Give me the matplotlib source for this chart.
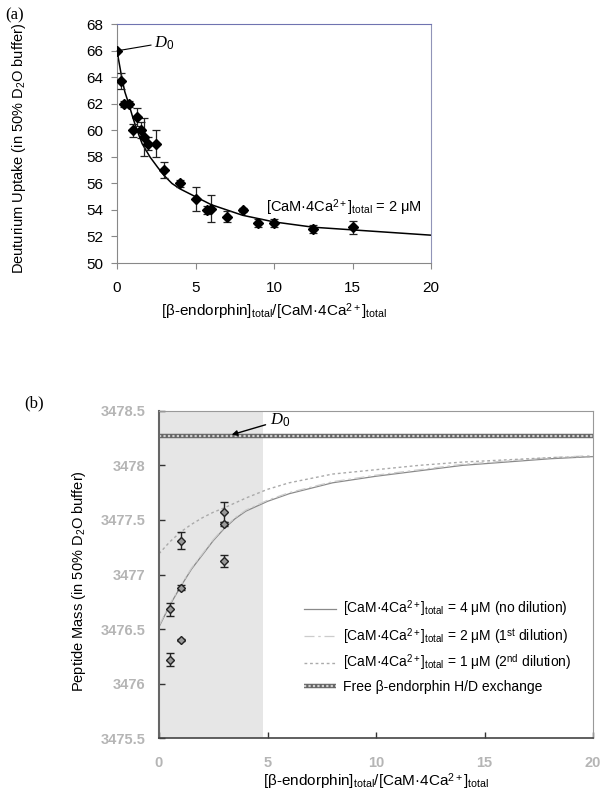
import matplotlib
matplotlib.use("Agg")
import matplotlib.pyplot as plt

plt.rcParams['font.family'] = ['Liberation Sans', 'DejaVu Sans']
plt.rcParams['mathtext.fontset'] = 'custom'
plt.rcParams['mathtext.rm'] = 'Liberation Sans'
plt.rcParams['mathtext.it'] = 'Liberation Serif:italic'
plt.rcParams['mathtext.bf'] = 'Liberation Sans:bold'

# ---- panel (a) data: deuterium uptake vs ratio ----
a_x = [0, 0.25, 0.45, 0.75, 1.0, 1.25, 1.5, 1.75, 2.0, 2.5, 3, 4, 5, 5.75, 6, 7, 8, 9, 10, 12.5, 15]
a_y = [66, 63.7, 62, 62, 60, 61, 60, 59.5, 59, 59, 57, 56, 54.8, 54, 54.1, 53.5, 54, 53, 53, 52.6, 52.7]
a_err = [0, 0.6, 0.25, 0.25, 0.5, 0.7, 0.6, 1.4, 0.5, 1.0, 0.6, 0.25, 0.9, 0.3, 1.0, 0.4, 0.15, 0.3, 0.3, 0.3, 0.5]

# fitted curve
a_fit_x = [0, 0.15, 0.3, 0.5, 0.75, 1.0, 1.25, 1.6, 2.1, 2.6, 3.0, 3.5, 4.0, 5, 6, 7, 8, 10, 12.5, 15, 17.5, 20]
a_fit_y = [66, 65, 64, 62.9, 62, 61, 60.1, 59, 58, 57.2, 56.6, 56.0, 55.6, 55.0, 54.4, 54.0, 53.6, 53.1, 52.7, 52.5, 52.3, 52.1]

# ---- panel (b) data: peptide mass vs ratio ----
b_x = [0.5, 0.5, 1.0, 1.0, 1.0, 3.0, 3.0, 3.0]
b_y = [3476.68, 3476.22, 3477.31, 3476.88, 3476.40, 3477.57, 3477.46, 3477.12]
b_err = [0.057, 0.06, 0.075, 0.02, 0.01, 0.09, 0.02, 0.055]

fit4_x = [0, 0.5, 1, 1.5, 2, 2.5, 3, 3.5, 4, 5, 6, 7, 8, 10, 12, 14, 16, 18, 20]
fit4_y = [3476.52, 3476.72, 3476.89, 3477.05, 3477.18, 3477.31, 3477.42, 3477.51, 3477.58,
          3477.67, 3477.74, 3477.79, 3477.84, 3477.90, 3477.95, 3478.00, 3478.03, 3478.06, 3478.08]
fit2_y = [3476.53, 3476.73, 3476.90, 3477.06, 3477.19, 3477.32, 3477.43, 3477.52, 3477.59,
          3477.68, 3477.75, 3477.80, 3477.85, 3477.91, 3477.96, 3478.01, 3478.04, 3478.07, 3478.09]
fit1_x = [0, 0.5, 1, 1.5, 2, 2.5, 3, 4, 5, 6, 7, 8, 10, 12, 14, 16, 18, 20]
fit1_y = [3477.19, 3477.30, 3477.39, 3477.46, 3477.52, 3477.57, 3477.61, 3477.70, 3477.78,
          3477.84, 3477.88, 3477.92, 3477.96, 3478.00, 3478.03, 3478.05, 3478.07, 3478.08]
free_level = 3478.27
shade_end = 4.8

ratio_label = '[β-endorphin]$_{\\mathrm{total}}$/[CaM·4Ca$^{\\mathrm{2+}}$]$_{\\mathrm{total}}$'
d0_label = '$\\mathit{D}_{\\mathit{0}}$'

fig = plt.figure(figsize=(6.05, 7.92), dpi=100)

# ================= panel (a) =================
ax1 = fig.add_axes([0.1934, 0.6679, 0.519, 0.3014])
ax1.plot(a_fit_x, a_fit_y, color='black', lw=1.1, zorder=2)
ax1.errorbar(a_x, a_y, yerr=a_err, fmt='D', ms=5, color='black', ecolor='#222222',
             elinewidth=0.9, capsize=3, capthick=0.9, zorder=3)
ax1.set_xlim(0, 20)
ax1.set_ylim(50, 68)
ax1.set_xticks([0, 5, 10, 15, 20])
ax1.set_yticks(range(50, 69, 2))
ax1.tick_params(direction='out', length=4, width=0.8, color='#888888', labelsize=11)
ax1.tick_params(axis='x', pad=9)
ax1.tick_params(axis='y', pad=6)
for s in ['left', 'bottom']:
    ax1.spines[s].set_color('#888888')
ax1.spines['top'].set_color('#6f73b0')
ax1.spines['right'].set_color('#9194b8')
ax1.set_ylabel('Deuturium Uptake (in 50% D$_{2}$O buffer)', fontsize=10.5)
ax1.yaxis.set_label_coords(-0.285, 0.48)
ax1.set_xlabel(ratio_label, fontsize=11)
ax1.xaxis.set_label_coords(0.5, -0.158)
ax1.annotate(d0_label, xy=(0, 66), xytext=(2.35, 66.6), fontsize=12,
             va='center', ha='left',
             arrowprops=dict(arrowstyle='-', color='black', lw=0.8, shrinkA=0, shrinkB=0))
ax1.text(9.5, 54.2, '[CaM·4Ca$^{\\mathrm{2+}}$]$_{\\mathrm{total}}$ = 2 μM', fontsize=10.5, va='center')
fig.text(0.008, 0.981, '(a)', fontsize=12, family='Liberation Serif', va='center')

# ================= panel (b) =================
ax2 = fig.add_axes([0.2628, 0.0678, 0.7174, 0.4136])
ax2.axvspan(0, shade_end, color='#e6e6e6', zorder=0, lw=0)
h4, = ax2.plot(fit4_x, fit4_y, color='#8a8a8a', lw=0.9, zorder=2)
h2, = ax2.plot(fit4_x, fit2_y, color='#cccccc', lw=0.9, dashes=(8, 3, 2, 3), zorder=2)
h1, = ax2.plot(fit1_x, fit1_y, color='#aaaaaa', lw=1.0, dashes=(2, 2), zorder=2)
hf1, = ax2.plot([0, 20], [free_level, free_level], color='#666666', lw=3.2, zorder=2,
                solid_capstyle='butt')
hf2, = ax2.plot([0, 20], [free_level, free_level], color='#d0d0d0', lw=1.6, zorder=2,
                dashes=(1, 1))
ax2.errorbar(b_x, b_y, yerr=b_err, fmt='D', ms=4, mfc='#9a9a9a', mec='#222222', mew=1.0,
             ecolor='#222222', elinewidth=1.0, capsize=3, capthick=1.0, zorder=3)
ax2.set_xlim(0, 20)
ax2.set_ylim(3475.5, 3478.5)
ax2.set_xticks([0, 5, 10, 15, 20])
ax2.set_yticks([3475.5, 3476, 3476.5, 3477, 3477.5, 3478, 3478.5])
ax2.set_yticklabels(['3475.5', '3476', '3476.5', '3477', '3477.5', '3478', '3478.5'])
ax2.tick_params(direction='in', length=4, width=1, color='#333333', labelsize=10.5,
                labelcolor='#b5b5b5')
ax2.tick_params(axis='x', pad=13)
ax2.tick_params(axis='y', pad=10)
for lab in ax2.get_xticklabels() + ax2.get_yticklabels():
    lab.set_fontweight('bold')
ax2.spines['left'].set_color('#666666')
ax2.spines['left'].set_linewidth(1.5)
ax2.spines['bottom'].set_color('#444444')
ax2.spines['bottom'].set_linewidth(1.2)
for s in ['top', 'right']:
    ax2.spines[s].set_color('#999999')
ax2.set_ylabel('Peptide Mass (in 50% D$_{2}$O buffer)', fontsize=10.5)
ax2.yaxis.set_label_coords(-0.163, 0.48)
ax2.set_xlabel(ratio_label, fontsize=11)
ax2.xaxis.set_label_coords(0.5, -0.1)
ax2.annotate(d0_label, xy=(3.35, free_level + 0.01), xytext=(5.1, 3478.41), fontsize=12,
             va='center', ha='left',
             arrowprops=dict(arrowstyle='-|>', color='black', lw=1.0, mutation_scale=8,
                             shrinkA=1, shrinkB=0))
ax2.legend([h4, h2, h1, (hf1, hf2)],
           ['[CaM·4Ca$^{\\mathrm{2+}}$]$_{\\mathrm{total}}$ = 4 μM (no dilution)',
            '[CaM·4Ca$^{\\mathrm{2+}}$]$_{\\mathrm{total}}$ = 2 μM (1$^{\\mathrm{st}}$ dilution)',
            '[CaM·4Ca$^{\\mathrm{2+}}$]$_{\\mathrm{total}}$ = 1 μM (2$^{\\mathrm{nd}}$ dilution)',
            'Free β-endorphin H/D exchange'],
           loc='upper left', bbox_to_anchor=(0.306, 0.465), frameon=False, fontsize=10,
           handlelength=2.3, handletextpad=0.5, labelspacing=0.46)
fig.text(0.04, 0.491, '(b)', fontsize=12, family='Liberation Serif', va='center')

fig.savefig('out.png', dpi=100)
